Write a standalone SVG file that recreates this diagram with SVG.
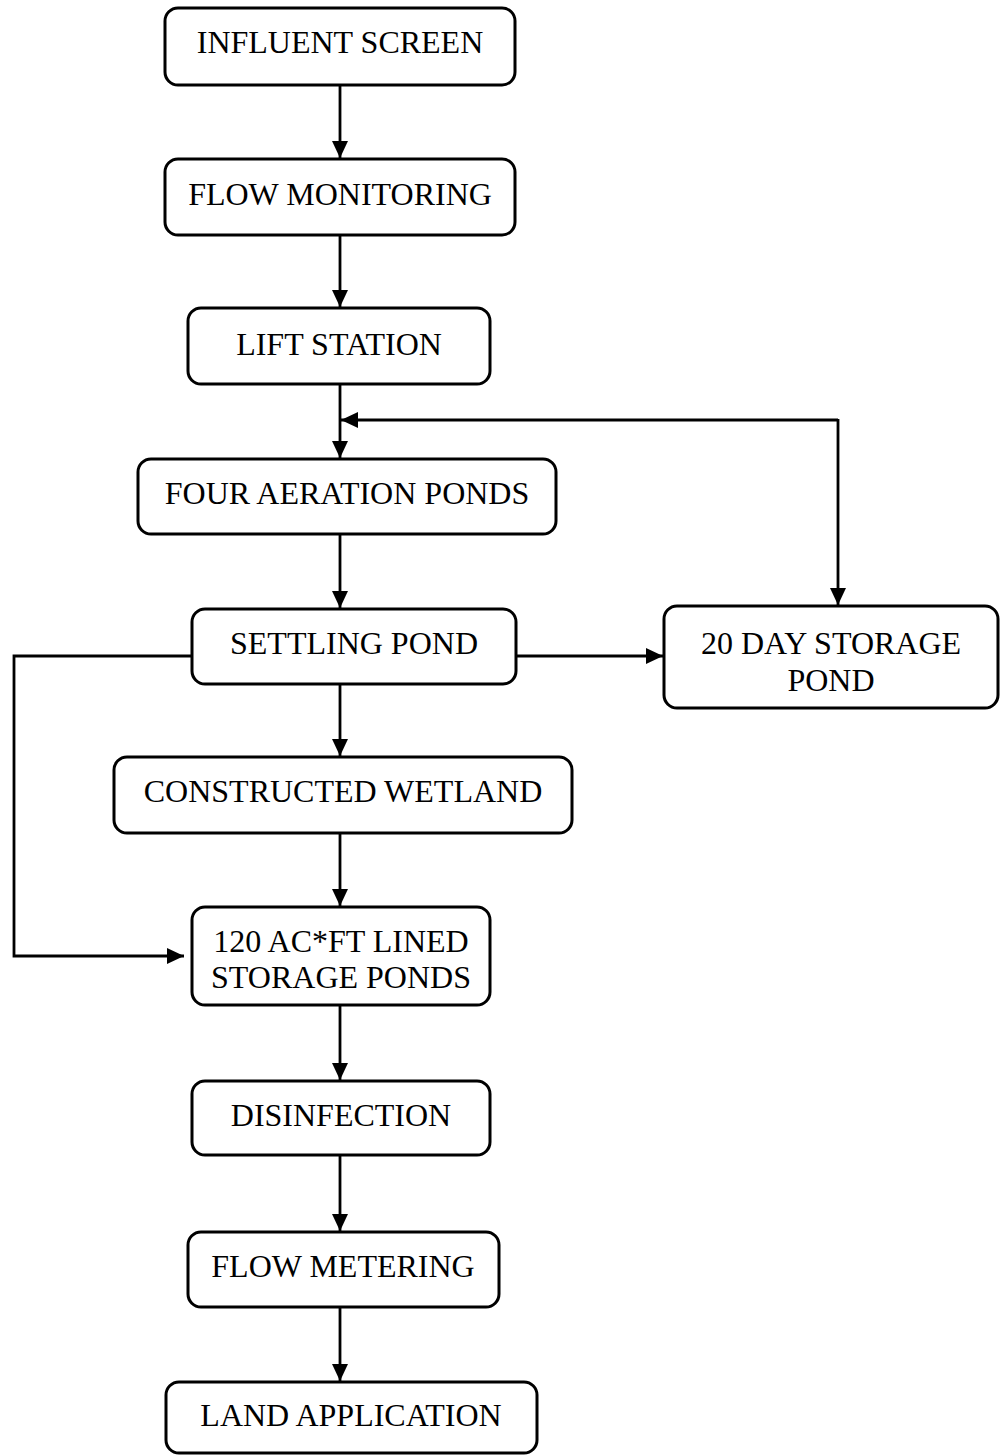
<svg xmlns="http://www.w3.org/2000/svg" width="1000" height="1455" viewBox="0 0 1000 1455">
<style>
.box{fill:#fff;stroke:#000;stroke-width:3}
.lbl{font-family:"Liberation Serif","Times New Roman",serif;font-size:32px;fill:#000;text-anchor:middle}
.con{fill:none;stroke:#000;stroke-width:2.8}
</style>
<defs>
<marker id="ah" markerUnits="userSpaceOnUse" viewBox="0 0 17 16" markerWidth="17" markerHeight="16" refX="17" refY="8" orient="auto">
<path d="M0,0 L17,8 L0,16 z" fill="#000"/>
</marker>
</defs>
<rect width="1000" height="1455" fill="#fff"/>
<g id="connectors">
<line class="con" x1="340" y1="85" x2="340" y2="158" marker-end="url(#ah)"/>
<line class="con" x1="340" y1="235" x2="340" y2="307" marker-end="url(#ah)"/>
<line class="con" x1="340" y1="384" x2="340" y2="458" marker-end="url(#ah)"/>
<polyline class="con" points="838,420 341,420" marker-end="url(#ah)"/>
<line class="con" x1="838" y1="419" x2="838" y2="605" marker-end="url(#ah)"/>
<line class="con" x1="340" y1="534" x2="340" y2="608" marker-end="url(#ah)"/>
<line class="con" x1="516" y1="656" x2="663" y2="656" marker-end="url(#ah)"/>
<line class="con" x1="340" y1="684" x2="340" y2="756" marker-end="url(#ah)"/>
<polyline class="con" points="192,656 14,656 14,956 184,956" marker-end="url(#ah)"/>
<line class="con" x1="340" y1="833" x2="340" y2="906" marker-end="url(#ah)"/>
<line class="con" x1="340" y1="1005" x2="340" y2="1080" marker-end="url(#ah)"/>
<line class="con" x1="340" y1="1155" x2="340" y2="1231" marker-end="url(#ah)"/>
<line class="con" x1="340" y1="1307" x2="340" y2="1381" marker-end="url(#ah)"/>
</g>
<g id="n1"><rect class="box" x="165" y="8" width="350" height="77" rx="13"/><text class="lbl" x="340" y="53">INFLUENT SCREEN</text></g>
<g id="n2"><rect class="box" x="165" y="159" width="350" height="76" rx="13"/><text class="lbl" x="340" y="205">FLOW MONITORING</text></g>
<g id="n3"><rect class="box" x="188" y="308" width="302" height="76" rx="13"/><text class="lbl" x="339" y="355">LIFT STATION</text></g>
<g id="n4"><rect class="box" x="138" y="459" width="418" height="75" rx="13"/><text class="lbl" x="347" y="504">FOUR AERATION PONDS</text></g>
<g id="n5"><rect class="box" x="192" y="609" width="324" height="75" rx="13"/><text class="lbl" x="354" y="654">SETTLING POND</text></g>
<g id="n6"><rect class="box" x="664" y="606" width="334" height="102" rx="13"/><text class="lbl" x="831" y="654">20 DAY STORAGE</text><text class="lbl" x="831" y="691">POND</text></g>
<g id="n7"><rect class="box" x="114" y="757" width="458" height="76" rx="13"/><text class="lbl" x="343" y="802">CONSTRUCTED WETLAND</text></g>
<g id="n8"><rect class="box" x="192" y="907" width="298" height="98" rx="13"/><text class="lbl" x="341" y="952">120 AC*FT LINED</text><text class="lbl" x="341" y="988">STORAGE PONDS</text></g>
<g id="n9"><rect class="box" x="192" y="1081" width="298" height="74" rx="13"/><text class="lbl" x="341" y="1126">DISINFECTION</text></g>
<g id="n10"><rect class="box" x="188" y="1232" width="311" height="75" rx="13"/><text class="lbl" x="343" y="1277">FLOW METERING</text></g>
<g id="n11"><rect class="box" x="166" y="1382" width="371" height="71" rx="13"/><text class="lbl" x="351" y="1426">LAND APPLICATION</text></g>
</svg>
